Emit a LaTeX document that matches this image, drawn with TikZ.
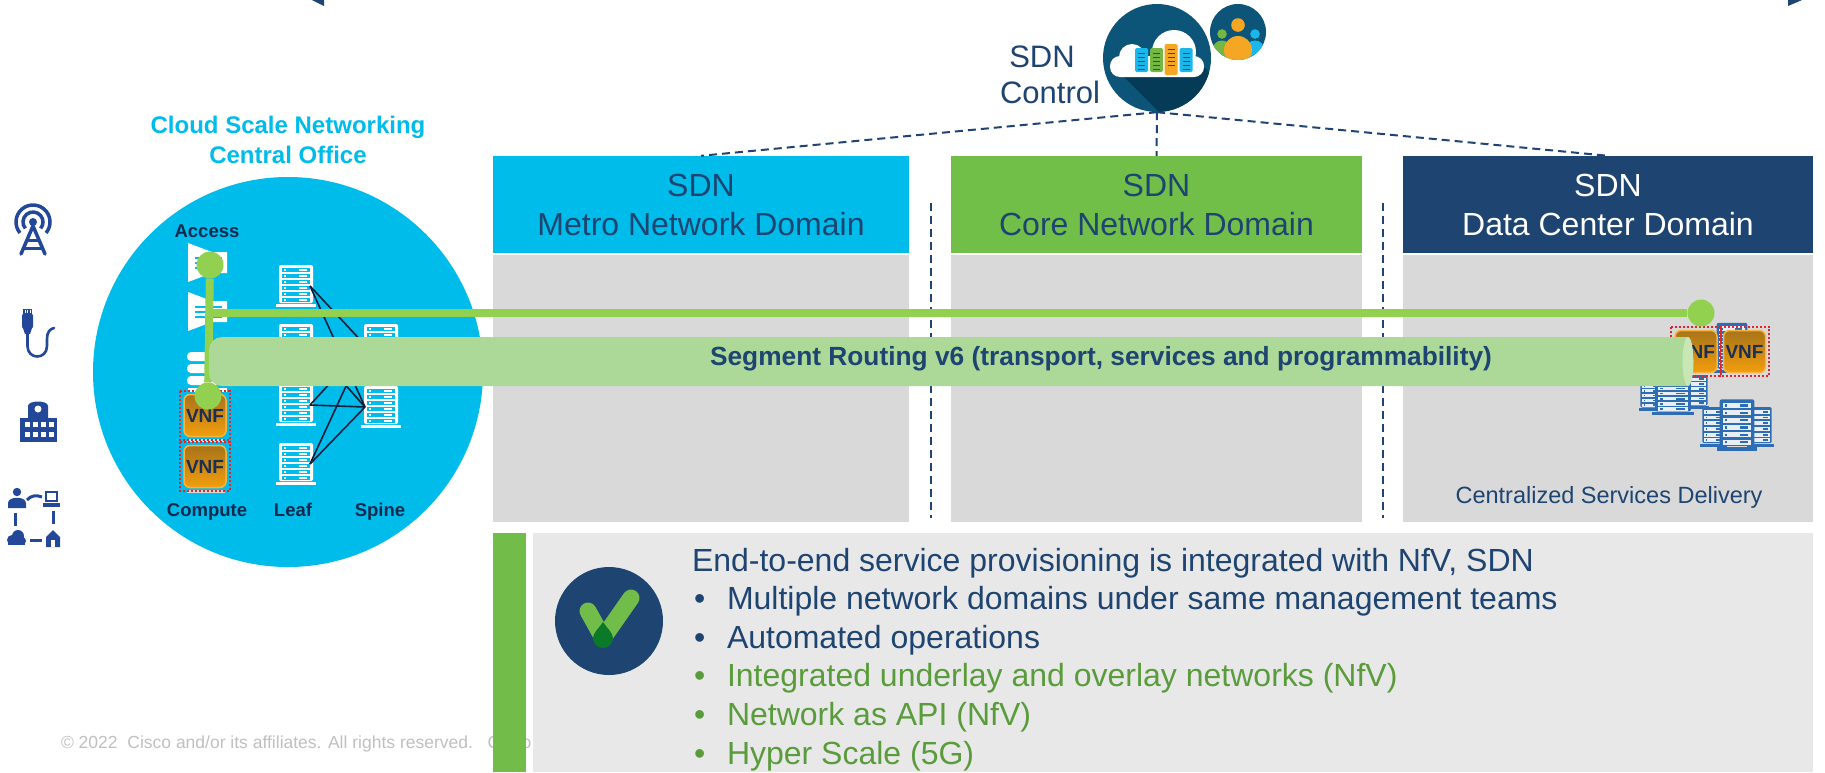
\documentclass[tikz,border=0pt]{standalone}
\usepackage{fontspec}
\setmainfont{Liberation Sans}
\usetikzlibrary{calc}

\definecolor{cyanC}{HTML}{00BCEB}
\definecolor{coreG}{HTML}{71BE48}
\definecolor{dcNavy}{HTML}{1E4471}
\definecolor{txtNavy}{HTML}{1E4471}
\definecolor{lblNavy}{HTML}{0E2A4F}
\definecolor{greyD}{HTML}{D9D9D9}
\definecolor{panelGrey}{HTML}{E8E8E8}
\definecolor{barGreen}{HTML}{72BD4A}
\definecolor{bulGreen}{HTML}{5A9C3C}
\definecolor{ctlTeal}{HTML}{0C5478}
\definecolor{ctlShadow}{HTML}{063B58}
\definecolor{lineGreen}{HTML}{92D050}
\definecolor{tubeGreen}{HTML}{ADD998}
\definecolor{tubeEnd}{HTML}{C8E6B6}
\definecolor{iconBlue}{HTML}{23489A}
\definecolor{dashNavy}{HTML}{1F4474}
\definecolor{copyGrey}{HTML}{C0C0C0}
\definecolor{srvBlue}{HTML}{2E6CB4}
\definecolor{srvLight}{HTML}{E8EEF6}
\definecolor{vnfTop}{HTML}{A8741A}
\definecolor{vnfBot}{HTML}{F29E0C}
\definecolor{vnfEdge}{HTML}{F8B440}
\definecolor{vnfText}{HTML}{1B2F52}
\definecolor{dotRed}{HTML}{E3252B}
\definecolor{barCyan}{HTML}{1AB8EA}
\definecolor{barGreenS}{HTML}{74B843}
\definecolor{barOrange}{HTML}{F5A623}
\definecolor{slotDark}{HTML}{2A4A6A}
\definecolor{checkDark}{HTML}{0A7A28}
\definecolor{meshLine}{HTML}{0E1E3C}

\newcommand{\fsz}[1]{\fontsize{#1}{#1}\selectfont}

% rack server icon: frame colour, slot colour, indicator colour
\tikzset{
  pics/rack/.style n args={3}{code={
    \fill[#1, rounded corners=2] (-17,-21) rectangle (17,17);
    \foreach \k in {0,...,5}{
      \fill[#2] (-14,-18+6*\k) rectangle (14,-14+6*\k);
      \fill[#3] (-12,-17+6*\k) rectangle (-10,-15+6*\k);
      \fill[#3] (3,-17+6*\k) rectangle (11,-15+6*\k);
    }
    \fill[#1] (-20,18) rectangle (20,21);
  }},
}

\begin{document}
\begin{tikzpicture}[x=1pt, y=-1pt,
  txt/.style={inner sep=0, outer sep=0},
  hdr/.style={minimum width=#1, minimum height=97, inner sep=0, align=center,
              font=\fontsize{32}{39}\selectfont},
  rackbox/.style={minimum width=34, minimum height=42, inner sep=0, outer sep=0},
  gdot/.style={circle, fill=lineGreen, minimum size=27, inner sep=0},
  gline/.style={lineGreen, line width=8},
  ctrldash/.style={dashNavy, line width=2, dash pattern=on 8pt off 5pt},
  mesh/.style={meshLine, line width=1.6},
  vnf/.style={rounded corners=6, minimum width=42, minimum height=42, inner sep=0,
              draw=vnfEdge, line width=1.5, top color=vnfTop, bottom color=vnfBot,
              font=\bfseries\fsz{19}, text=vnfText},
  reddot/.style={dotRed, line width=2.2, dash pattern=on 2.2pt off 1.8pt},
  lbl/.style={txt, anchor=base, font=\bfseries\fsz{18.5}, text=lblNavy},
  body/.style={txt, anchor=base west, font=\fsz{32}},
]
\useasboundingbox (0,0) rectangle (1825,772);
\fill[white] (0,0) rectangle (1825,772);

% small corner wedges at the top edge
\fill[dcNavy] (312,0) -- (324,0) -- (324,6) -- cycle;
\fill[dcNavy] (1788,0) -- (1802,0) -- (1788,6) -- cycle;

% footer
\node[txt, anchor=base west, font=\fsz{17.5}, text=copyGrey] (copy) at (61,748)
  {© 2022\ \ Cisco and/or its affiliates. All rights reserved.\ \ \ Cisco Confidential};

% ---------- access type icons ----------
\begin{scope}[iconBlue]
  % antenna
  \draw[line width=3.5] (33,222) ++(140:17) arc[start angle=140, end angle=400, radius=17];
  \draw[line width=3.5] (33,222) ++(140:10) arc[start angle=140, end angle=400, radius=10];
  \fill (33,222) circle[radius=4];
  \draw[line width=3.5, line join=round, line cap=round] (21,254) -- (33,226) -- (45,254);
  \draw[line width=3] (27,240) -- (39,240) (24,248) -- (42,248);
  % cable
  \fill (23,309) rectangle (32,314);
  \foreach \px in {25,27.5,30} \draw[white, line width=0.7] (\px,309.5) -- (\px,313);
  \fill[rounded corners=1] (22,314) rectangle (33,328);
  \fill (23,328) -- (32,328) -- (30,334) -- (25,334) -- cycle;
  \draw[line width=2.6, line cap=round] (27.5,334) -- (27.5,346)
     .. controls (27.5,360) and (47,360) .. (47,346) -- (47,339)
     .. controls (47,332) and (50,329) .. (54,328);
  % building
  \fill (20,418) rectangle (57,442);
  \fill (28,418) -- (28,406) .. controls (28,400) and (48,400) .. (48,406) -- (48,418) -- cycle;
  \fill[white] (38,409) circle[radius=3.5];
  \foreach \wx in {25,33,41,49}
    \foreach \wy in {422,432} \fill[white] (\wx,\wy) rectangle (\wx+4.5,\wy+5);
  % people / devices cycle
  \fill (17,492) circle[radius=4.2];
  \fill (8,508) -- (8,503) .. controls (8,496) and (26,496) .. (26,503) -- (26,508) -- cycle;
  \draw[line width=2.5] (46,492) rectangle (57,501);
  \fill (43,503) rectangle (60,507);
  \fill (12,540) circle[radius=5] (18,536) circle[radius=6] (22,541) circle[radius=4];
  \fill (8,540) rectangle (25,545);
  \fill (46,537) -- (53,530) -- (60,537) -- (60,547) -- (46,547) -- cycle;
  \fill[white] (51,540) rectangle (55,547);
  \draw[line width=3] (27,500) .. controls (31,495) and (37,495) .. (42,497);
  \draw[line width=3] (15,513) -- (15,526);
  \draw[line width=3] (53,511) -- (53,524);
  \draw[line width=3] (30,540) -- (42,540);
\end{scope}

% ---------- central office ----------
\node[circle, fill=cyanC, minimum size=390, inner sep=0] (co) at (288,372) {};
\node[txt, anchor=base, font=\bfseries\fsz{24}, text=cyanC] (cot1) at (288,133.5) {Cloud Scale Networking};
\node[txt, anchor=base, font=\bfseries\fsz{24}, text=cyanC] (cot2) at (288,163.5) {Central Office};

% access devices
\foreach \ty in {243,292}{
  \fill[white] (188,\ty) -- (212,\ty+9) -- (227,\ty+9) -- (227,\ty+30) -- (212,\ty+30) -- (188,\ty+39) -- cycle;
  \foreach \ly in {15,20,25} \draw[cyanC, line width=1.5] (195,\ty+\ly) -- (222,\ty+\ly);
}
% compute stack
\foreach \py in {352,364,376} \fill[white, rounded corners=4] (187,\py) rectangle (227,\py+9);
\fill[white] (188,388) rectangle (227,392);
\fill[white!85!black] (187,439) rectangle (225,442);
\fill[white!85!black] (187,490) rectangle (225,493);

% leaf and spine switches
\foreach \n/\yy in {1/286,2/345,3/405,4/464}{
  \node[rackbox] (leaf\n) at (296,\yy) {};
  \pic at (leaf\n) {rack={white}{cyanC}{white}};
}
\foreach \n/\yy in {1/345,2/407}{
  \node[rackbox] (spine\n) at (381,\yy) {};
  \pic at (spine\n) {rack={white}{cyanC}{white}};
}
\foreach \a in {1,...,4}
  \foreach \b in {1,2}
    \draw[mesh] ([xshift=-3]leaf\a.east) -- ([xshift=1]spine\b.west);

% compute VNFs
\node[vnf] (vnf1) at (205,415.5) {VNF};
\node[vnf] (vnf2) at (205,466.5) {VNF};
\foreach \v in {vnf1,vnf2}
  \draw[reddot] ([shift={(-3,-3)}]\v.north west) rectangle ([shift={(3,3)}]\v.south east);

\node[lbl] (lacc) at (207,237) {Access};
\node[lbl] (lcmp) at (207,516) {Compute};
\node[lbl] (lleaf) at (293,516) {Leaf};
\node[lbl] (lspn) at (380,516) {Spine};

% ---------- SDN domains ----------
\node[hdr=416, fill=cyanC, text=txtNavy] (metro) at (701,204.5) {SDN\\Metro Network Domain};
\node[hdr=411, fill=coreG, text=txtNavy] (core) at (1156.5,204.5) {SDN\\Core Network Domain};
\node[hdr=410, fill=dcNavy, text=white] (dc) at (1608,204.5) {SDN\\Data Center Domain};
\fill[greyD] (493,255) rectangle (909,522);
\fill[greyD] (951,255) rectangle (1362,522);
\fill[greyD] (1403,255) rectangle (1813,522);

\draw[ctrldash] (931,203) -- (931,518);
\draw[ctrldash] (1383,203) -- (1383,518);

\node[txt, anchor=base, font=\fsz{23.5}, text=txtNavy] (csd) at (1609,503) {Centralized Services Delivery};

% data center servers and VNFs
\pic[xscale=0.9, yscale=1.2] at (1732,348) {rack={srvBlue}{srvLight}{srvBlue}};
\pic[xscale=0.62, yscale=0.8] at (1651,394) {rack={srvBlue}{srvLight}{srvBlue}};
\pic[xscale=0.62, yscale=0.8] at (1697,392) {rack={srvBlue}{srvLight}{srvBlue}};
\pic[xscale=1.05, yscale=0.85] at (1673,397) {rack={srvBlue}{srvLight}{srvBlue}};
\pic[xscale=0.66, yscale=0.95] at (1713.5,427) {rack={srvBlue}{srvLight}{srvBlue}};
\pic[xscale=0.66, yscale=0.95] at (1760.5,427) {rack={srvBlue}{srvLight}{srvBlue}};
\pic[xscale=1.02, yscale=1.22] at (1737,425) {rack={srvBlue}{srvLight}{srvBlue}};
\node[vnf] (dv1) at (1696,351.5) {VNF};
\node[vnf] (dv2) at (1744.5,351.5) {VNF};
\foreach \v in {dv1,dv2}
  \draw[reddot] ([shift={(-3,-3)}]\v.north west) rectangle ([shift={(3,3)}]\v.south east);

% ---------- SDN control ----------
\node[circle, fill=ctlTeal, minimum size=108, inner sep=0] (ctl) at (1157,58) {};
\begin{scope}
  \clip (1157,58) circle[radius=54];
  \fill[ctlShadow] (1122,75) -- (1203,66) -- (1303,166) -- (1222,175) -- cycle;
\end{scope}
\fill[white, rounded corners=10] (1110,56) rectangle (1204,77);
\fill[white] (1132,57) circle[radius=13];
\fill[white] (1174,52) circle[radius=22];
\foreach \xx/\cc/\tt/\bb in {1135/barCyan/48/72, 1150/barGreenS/48/72, 1164.5/barOrange/44/75, 1179.5/barCyan/48/72}{
  \fill[\cc, rounded corners=1.5] (\xx,\tt) rectangle (\xx+13,\bb);
  \foreach \k in {0,...,4} \draw[slotDark, line width=1] (\xx+3,\tt+5+\k*4) -- (\xx+10,\tt+5+\k*4);
}
\node[circle, fill=ctlTeal, minimum size=56, inner sep=0] (ppl) at (1238,32) {};
\begin{scope}
  \clip (1238,32) circle[radius=28];
  \fill[barGreenS] (1222,50) circle[radius=9.5];
  \fill[barGreenS] (1222,34) circle[radius=4.8];
  \fill[barCyan] (1255,50) circle[radius=9.5];
  \fill[barCyan] (1255,34) circle[radius=4.8];
  \fill[barOrange] (1238,50) circle[radius=14];
  \fill[barOrange] (1238,25) circle[radius=6.8];
\end{scope}
\node[txt, anchor=base, font=\fsz{31}, text=txtNavy] (ctlt1) at (1042,67) {SDN};
\node[txt, anchor=base, font=\fsz{31}, text=txtNavy] (ctlt2) at (1050,103) {Control};

\draw[ctrldash] (ctl.south) -- (metro.north);
\draw[ctrldash] (ctl.south) -- (core.north);
\draw[ctrldash] (ctl.south) -- (dc.north);

% ---------- SRv6 path and tube ----------
\node[gdot] (ga) at (210,265) {};
\node[gdot] (gv) at (208,396) {};
\node[gdot] (gd) at (1701,313) {};
\draw[gline] (ga) -- (gv);
\draw[gline] (ga.center |- gd.center) -- (gd);

\begin{scope}
  \clip (200,330) rectangle (1688,395);
  \fill[tubeGreen, rounded corners=13] (209,337) rectangle (1720,386);
\end{scope}
\fill[tubeEnd] (1688,361.5) ellipse[x radius=5.5, y radius=24.5];
\node[txt, anchor=base, font=\bfseries\fsz{26.3}, text=txtNavy] (sr) at (1101,365)
  {Segment Routing v6 (transport, services and programmability)};

% ---------- summary panel ----------
\fill[barGreen] (493,533) rectangle (526,772);
\fill[panelGrey] (533,533) rectangle (1813,772);
\node[circle, fill=dcNavy, minimum size=108, inner sep=0] (chk) at (609,621) {};
\draw[barGreen, line width=17, line cap=round] (588,611) -- (603,638);
\draw[barGreen, line width=17, line cap=round] (603,638) -- (631,598);
\fill[checkDark] (603,622) .. controls (607,628) and (613,633) .. (613,638)
  arc[start angle=0, end angle=180, radius=10] .. controls (593,633) and (599,628) .. (603,622) -- cycle;

\node[body, text=txtNavy] (b0) at (692,571) {End-to-end service provisioning is integrated with NfV, SDN};
\foreach \i/\yy/\cc/\tx in {
  1/609.6/txtNavy/{Multiple network domains under same management teams},
  2/648.2/txtNavy/{Automated operations},
  3/686.8/bulGreen/{Integrated underlay and overlay networks (NfV)},
  4/725.4/bulGreen/{Network as API (NfV)},
  5/764/bulGreen/{Hyper Scale (5G)}}{
  \node[body, text=\cc] (d\i) at (694,\yy) {•};
  \node[body, text=\cc] (b\i) at (727,\yy) {\tx};
}
\end{tikzpicture}
\end{document}
